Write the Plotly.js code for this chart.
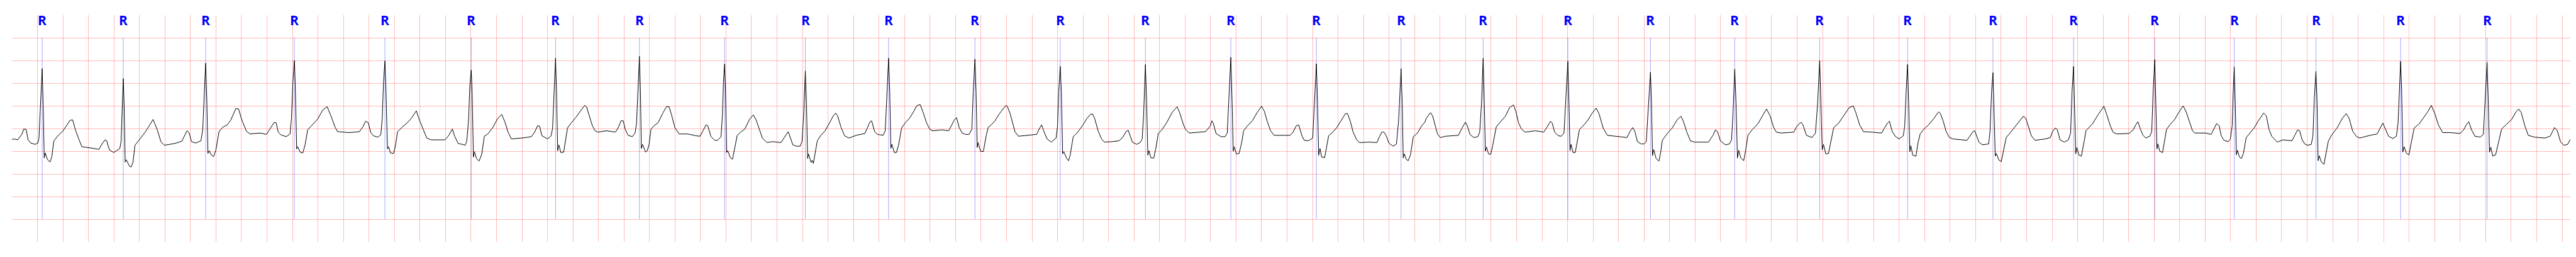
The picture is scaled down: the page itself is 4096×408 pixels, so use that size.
<!DOCTYPE html>
<html>
<head>
<meta charset="utf-8">
<script src="https://cdn.plot.ly/plotly-3.0.1.min.js"></script>
<style>html,body{margin:0;padding:0;background:#fff;}#chart{width:4096px;height:408px;}</style>
</head>
<body>
<div id="chart"></div>
<script>
// ECG trace: time (s) and amplitude (mV)
const ecgTimeS = [
0.000,0.018,0.045,0.059,0.079,0.093,0.111,0.127,0.148,0.182,
0.203,0.212,0.223,0.237,0.245,0.253,0.261,0.278,0.298,0.313,
0.328,0.360,0.401,0.428,0.456,0.476,0.500,0.524,0.548,0.620,
0.682,0.709,0.730,0.743,0.764,0.798,0.846,0.856,0.864,0.873,
0.880,0.888,0.897,0.921,0.935,0.949,0.965,0.997,1.045,1.072,
1.107,1.140,1.168,1.195,1.277,1.332,1.359,1.373,1.389,1.408,
1.442,1.482,1.496,1.507,1.519,1.528,1.537,1.547,1.565,1.581,
1.599,1.624,1.654,1.688,1.715,1.756,1.777,1.804,1.839,1.866,
1.948,1.996,2.023,2.055,
2.071,2.089,2.109,2.151,2.181,2.192,2.203,2.215,2.222,2.233,
2.241,2.260,2.281,2.299,2.319,2.356,2.398,2.438,2.472,2.500,
2.534,2.554,2.643,2.725,2.753,2.773,2.794,2.814,2.835,2.869,
2.893,2.904,2.914,2.925,2.932,2.945,2.953,2.969,2.993,3.009,
3.024,3.061,3.109,3.136,3.171,3.198,3.225,3.253,3.287,3.396,
3.424,3.454,3.472,3.499,3.533,3.554,3.567,3.581,3.591,3.602,
3.609,3.619,3.627,3.643,3.663,3.684,3.705,3.732,3.773,3.807,
3.841,3.868,3.889,3.917,3.999,4.074,4.101,4.122,4.138,4.156,
4.201,
4.229,4.240,4.251,4.263,4.271,4.280,4.289,4.305,4.327,4.342,
4.357,4.382,4.421,4.465,4.492,4.506,4.525,4.552,4.574,4.596,
4.662,4.733,4.755,4.777,4.794,4.810,4.832,4.865,4.887,4.898,
4.909,4.921,4.929,4.936,4.945,4.958,4.969,4.982,4.997,5.011,
5.035,5.068,5.106,5.134,5.153,5.172,5.199,5.232,5.298,5.364,
5.397,5.419,5.443,5.457,5.482,5.512,5.534,5.561,5.572,5.580,
5.589,5.596,5.605,5.614,5.633,5.651,5.662,5.688,5.715,5.748,
5.786,5.814,5.836,5.857,5.885,5.921,
5.965,6.031,6.053,6.075,6.088,6.102,6.124,6.152,6.182,6.197,
6.209,6.222,6.231,6.240,6.247,6.267,6.276,6.285,6.300,6.316,
6.344,6.377,6.409,6.442,6.459,6.475,6.503,6.530,6.563,6.623,
6.689,6.711,6.728,6.742,6.766,6.788,6.832,6.849,6.860,6.875,
6.884,6.893,6.901,6.920,6.936,6.953,6.977,7.007,7.040,7.073,
7.095,7.122,7.144,7.172,7.199,7.221,7.292,7.347,7.363,7.391,
7.408,7.429,7.452,7.479,7.506,7.528,7.539,7.552,7.561,7.570,
7.577,7.596,7.618,7.641,
7.657,7.679,7.707,7.745,7.795,7.806,7.828,7.844,7.866,7.893,
7.992,8.036,8.058,8.075,8.091,8.118,8.151,8.189,8.200,8.209,
8.221,8.230,8.240,8.249,8.272,8.286,8.299,8.323,8.353,8.397,
8.430,8.458,8.474,8.490,8.518,8.545,8.567,8.628,8.683,8.710,
8.737,8.754,8.771,8.787,8.820,8.848,8.864,8.875,8.889,8.899,
8.908,8.917,8.933,8.955,8.970,8.990,9.018,9.056,9.100,9.138,
9.160,9.188,9.204,9.232,9.361,
9.383,9.399,9.410,9.421,9.443,9.482,9.514,9.531,9.542,9.559,
9.569,9.578,9.585,9.602,9.624,9.644,9.659,9.690,9.728,9.767,
9.800,9.822,9.844,9.871,9.898,9.953,10.025,10.047,10.072,10.091,
10.118,10.135,10.168,10.201,10.211,10.230,10.239,10.248,10.258,10.271,
10.295,10.310,10.326,10.359,10.392,10.425,10.458,10.474,10.496,10.518,
10.546,10.568,10.644,10.705,10.721,10.743,10.760,10.776,10.798,10.831,
10.858,10.875,10.894,10.903,10.911,10.919,10.935,10.950,10.968,10.990,
11.023,11.056,11.081,
11.092,11.125,11.141,11.157,11.180,11.202,11.245,11.344,11.372,11.399,
11.416,11.434,11.465,11.496,11.511,11.525,11.538,11.547,11.555,11.564,
11.580,11.597,11.613,11.641,11.674,11.712,11.745,11.775,11.794,11.816,
11.838,11.866,11.948,12.013,12.041,12.066,12.079,12.099,12.128,12.150,
12.172,12.183,12.202,12.211,12.219,12.227,12.243,12.260,12.276,12.293,
12.325,12.358,12.391,12.424,12.446,12.479,12.512,12.616,12.666,12.688,
12.710,12.726,12.748,12.776,12.801,
12.817,12.831,12.850,12.858,12.866,12.875,12.894,12.916,12.930,12.943,
12.982,13.020,13.059,13.089,13.108,13.135,13.163,13.196,13.305,13.338,
13.360,13.376,13.398,13.437,13.470,13.486,13.497,13.511,13.521,13.532,
13.542,13.557,13.581,13.596,13.614,13.650,13.694,13.733,13.760,13.788,
13.815,13.837,13.876,13.974,13.996,14.029,14.046,14.073,14.117,14.144,
14.161,14.177,14.186,14.197,14.207,14.225,14.246,14.265,14.287,14.326,
14.369,14.408,14.441,14.463,14.490,14.521,
14.586,14.663,14.685,14.709,14.724,14.746,14.773,14.800,14.833,14.844,
14.855,14.866,14.875,14.884,14.892,14.907,14.932,14.948,14.965,14.992,
15.031,15.075,15.110,15.124,15.146,15.168,15.195,15.223,15.332,15.354,
15.382,15.393,15.409,15.426,15.453,15.502,15.513,15.525,15.536,15.543,
15.554,15.563,15.583,15.601,15.618,15.640,15.667,15.706,15.744,15.774,
15.793,15.815,15.837,15.865,15.947,15.986,16.002,16.024,16.040,16.062,
16.095,16.128,16.145,16.156,16.168,16.175,16.185,16.194,16.211,16.229,
16.241,
16.252,16.265,16.285,16.318,16.362,16.406,16.422,16.455,16.477,16.505,
16.603,16.636,16.656,16.673,16.693,16.713,16.735,16.766,16.781,16.792,
16.805,16.813,16.822,16.830,16.844,16.866,16.879,16.897,16.926,16.959,
16.992,17.028,17.052,17.079,17.101,17.118,17.206,17.247,17.266,17.290,
17.310,17.326,17.348,17.381,17.398,17.412,17.420,17.428,17.436,17.445,
17.453,17.469,17.485,17.500,17.522,17.551,17.584,17.617,17.659,17.680,
17.700,17.722,17.766,17.810,17.881,17.903,17.925,17.941,17.961,
17.981,18.002,18.032,18.045,18.056,18.069,18.077,18.086,18.095,18.111,
18.132,18.149,18.166,18.193,18.234,18.275,18.306,18.330,18.357,18.385,
18.412,18.494,18.549,18.569,18.593,18.617,18.638,18.672,18.700,18.713,
18.723,18.733,18.741,18.750,18.760,18.779,18.798,18.816,18.839,18.878,
18.919,18.946,18.974,19.001,19.029,19.063,19.124,19.200,19.227,19.248,
19.268,19.289,19.316,19.357,19.382,19.396,19.411,19.420,19.430,19.440,
19.456,19.478,19.501,19.525,19.563,19.604,19.638,19.659,19.679,19.707,
19.734,19.782,19.864,19.906,19.940,19.960,19.988,20.015,20.042,20.064
];
const ecgMv = [
-0.24,-0.23,-0.25,-0.19,-0.12,-0.01,-0.02,-0.25,-0.32,-0.35,
-0.32,-0.21,0.51,1.32,0.51,-0.65,-0.54,-0.68,-0.74,-0.62,
-0.28,-0.16,-0.05,0.06,0.18,0.19,-0.05,-0.23,-0.40,-0.43,
-0.46,-0.33,-0.25,-0.27,-0.47,-0.53,-0.44,-0.28,0.51,1.10,
0.51,-0.74,-0.69,-0.83,-0.85,-0.75,-0.37,-0.26,-0.08,0.04,
0.20,-0.03,-0.29,-0.37,-0.33,-0.28,-0.12,-0.05,-0.09,-0.29,
-0.32,-0.27,-0.03,0.66,1.44,0.66,-0.55,-0.49,-0.59,-0.62,
-0.48,-0.07,0.03,0.08,0.18,0.44,0.43,0.18,-0.06,-0.12,
-0.10,-0.13,-0.01,0.13,
0.13,-0.08,-0.14,-0.18,-0.12,0.22,1.02,1.50,0.95,-0.45,
-0.40,-0.52,-0.54,-0.36,-0.03,0.08,0.21,0.41,0.48,0.29,
0.03,-0.07,-0.09,-0.07,0.04,0.16,0.13,-0.09,-0.16,-0.19,
-0.14,0.22,1.02,1.49,0.95,-0.45,-0.40,-0.54,-0.55,-0.36,
-0.07,0.03,0.15,0.24,0.39,0.17,-0.03,-0.21,-0.25,-0.25,
-0.16,-0.01,-0.17,-0.33,-0.35,-0.37,-0.28,0.18,0.95,1.29,
0.80,-0.63,-0.51,-0.66,-0.72,-0.57,-0.17,-0.12,0.03,0.21,
0.31,0.13,-0.07,-0.23,-0.21,-0.18,-0.07,0.06,0.05,-0.16,
-0.23,
-0.16,0.01,0.81,1.55,0.81,-0.49,-0.36,-0.53,-0.52,-0.27,
0.01,0.11,0.24,0.41,0.51,0.48,0.31,0.06,-0.05,-0.08,
-0.05,-0.08,0.02,0.17,0.17,-0.02,-0.15,-0.18,-0.10,0.11,
0.81,1.59,0.81,-0.44,-0.35,-0.45,-0.52,-0.49,-0.35,-0.02,
0.06,0.13,0.35,0.48,0.48,0.31,0.02,-0.12,-0.12,-0.16,
-0.17,-0.05,0.08,0.06,-0.18,-0.26,-0.26,-0.18,0.31,1.02,
1.42,0.86,-0.53,-0.49,-0.64,-0.68,-0.53,-0.15,-0.08,-0.01,
0.21,0.30,0.19,0.01,-0.21,-0.31,
-0.29,-0.31,-0.21,-0.11,-0.07,-0.18,-0.36,-0.39,-0.39,-0.27,
0.31,1.27,0.56,-0.66,-0.56,-0.75,-0.70,-0.77,-0.55,-0.27,
-0.15,-0.05,0.11,0.28,0.34,0.28,0.02,-0.16,-0.21,-0.15,
-0.11,0.04,0.14,0.17,-0.07,-0.13,-0.15,-0.05,0.56,1.55,
0.81,-0.44,-0.35,-0.53,-0.53,-0.37,0.01,0.13,0.23,0.38,
0.50,0.53,0.37,0.13,-0.02,-0.05,-0.03,-0.05,0.04,0.19,
0.24,0.02,-0.10,-0.13,-0.13,-0.02,0.81,1.53,0.81,-0.42,
-0.31,-0.50,-0.51,-0.15,
0.03,0.08,0.16,0.33,0.51,0.49,0.33,0.16,-0.07,-0.17,
-0.14,-0.13,0.00,0.08,-0.05,-0.23,-0.30,-0.21,0.06,0.81,
1.37,0.81,-0.56,-0.51,-0.66,-0.71,-0.59,-0.18,-0.10,0.07,
0.22,0.31,0.32,0.23,-0.05,-0.23,-0.30,-0.29,-0.27,-0.20,
-0.07,-0.04,-0.17,-0.30,-0.35,-0.31,-0.23,0.31,1.41,0.56,
-0.59,-0.49,-0.65,-0.65,-0.45,-0.11,-0.03,0.13,0.36,0.48,
0.33,0.08,-0.02,-0.10,-0.07,
0.01,0.06,0.17,0.12,-0.11,-0.18,-0.18,-0.10,0.56,1.57,
0.56,-0.50,-0.40,-0.56,-0.55,-0.31,-0.05,0.06,0.17,0.36,
0.49,0.38,0.16,-0.05,-0.15,-0.15,-0.15,-0.08,0.06,0.08,
-0.17,-0.26,-0.27,-0.21,0.31,1.43,0.56,-0.59,-0.44,-0.63,
-0.64,-0.41,-0.16,-0.08,0.03,0.18,0.33,0.33,0.16,-0.08,
-0.25,-0.31,-0.30,-0.31,-0.20,-0.08,-0.08,-0.15,-0.32,-0.39,
-0.34,0.18,1.32,0.56,-0.65,-0.56,-0.68,-0.71,-0.58,-0.18,
-0.10,0.06,0.14,
0.23,0.35,0.28,0.12,-0.12,-0.20,-0.17,-0.15,0.01,0.14,
0.04,-0.13,-0.20,-0.18,-0.08,0.56,1.55,0.56,-0.50,-0.41,
-0.56,-0.57,-0.37,0.04,0.14,0.27,0.46,0.52,0.38,0.12,
-0.01,-0.08,-0.05,-0.08,0.04,0.16,0.12,-0.08,-0.16,-0.17,
-0.10,0.56,1.48,0.56,-0.49,-0.35,-0.53,-0.53,-0.27,-0.02,
0.07,0.18,0.33,0.45,0.33,0.01,-0.15,-0.18,-0.20,-0.07,
0.02,-0.05,-0.29,-0.34,-0.34,
-0.29,0.31,1.24,0.56,-0.60,-0.46,-0.66,-0.72,-0.53,-0.26,
-0.11,0.01,0.19,0.27,0.16,-0.08,-0.27,-0.30,-0.30,-0.16,
-0.03,-0.07,-0.27,-0.36,-0.34,-0.25,0.31,1.31,0.56,-0.65,
-0.48,-0.64,-0.71,-0.49,-0.15,-0.02,0.11,0.30,0.43,0.28,
0.03,-0.08,-0.10,-0.08,0.04,0.14,0.08,-0.15,-0.20,-0.10,
0.56,1.50,0.56,-0.47,-0.35,-0.56,-0.55,-0.27,0.02,0.12,
0.30,0.46,0.50,0.33,0.08,-0.07,
-0.08,-0.10,0.01,0.12,0.16,-0.07,-0.18,-0.23,-0.16,0.06,
0.81,1.41,0.56,-0.51,-0.38,-0.59,-0.61,-0.32,-0.12,-0.02,
0.08,0.23,0.37,0.33,0.16,-0.06,-0.20,-0.23,-0.26,-0.17,
-0.06,-0.05,-0.16,-0.30,-0.36,-0.34,-0.07,0.81,1.23,0.56,
-0.61,-0.55,-0.70,-0.73,-0.50,-0.20,-0.11,0.03,0.17,0.27,
0.23,0.03,-0.16,-0.26,-0.23,-0.20,-0.07,0.01,-0.02,-0.25,
-0.30,-0.25,-0.10,0.81,1.37,0.56,-0.56,-0.42,-0.59,-0.61,
-0.45,
-0.27,-0.05,0.01,0.11,0.31,0.49,0.36,0.07,-0.08,-0.12,
-0.11,-0.03,0.08,0.15,-0.02,-0.15,-0.21,-0.17,-0.07,0.81,
1.52,0.56,-0.45,-0.34,-0.50,-0.53,-0.32,-0.02,0.09,0.19,
0.35,0.50,0.36,0.13,-0.05,-0.10,-0.10,-0.13,-0.02,0.11,
0.06,-0.16,-0.26,-0.29,-0.23,0.06,0.81,1.36,0.56,-0.58,
-0.48,-0.63,-0.66,-0.55,-0.20,-0.10,0.01,0.17,0.34,0.28,
-0.01,-0.17,-0.30,-0.25,-0.27,-0.15,-0.03,-0.05,-0.25,
-0.34,-0.37,-0.35,-0.17,0.66,1.26,0.66,-0.71,-0.60,-0.74,
-0.79,-0.55,-0.28,-0.14,0.01,0.22,0.33,0.22,-0.06,-0.17,
-0.21,-0.15,-0.12,-0.01,0.12,-0.03,-0.17,-0.22,-0.17,0.12,
0.84,1.48,0.84,-0.52,-0.40,-0.55,-0.58,-0.32,0.01,0.10,
0.26,0.37,0.51,0.33,0.08,-0.09,-0.09,-0.11,-0.03,0.08,
0.15,-0.03,-0.17,-0.19,-0.13,0.66,1.46,0.66,-0.52,-0.41,
-0.61,-0.58,-0.28,-0.01,0.09,0.20,0.37,0.43,0.35,0.06,
-0.15,-0.19,-0.21,-0.17,0.02,-0.04,-0.30,-0.37,-0.35,-0.24
];
// Detected R peaks (s)
const rPeakTimes = [0.237,0.873,1.519,2.215,2.925,3.602,4.263,4.921,5.589,6.222,
6.875,7.552,8.221,8.889,9.559,10.230,10.894,11.538,12.202,12.850,
13.511,14.177,14.866,15.536,16.168,16.805,17.428,18.069,18.733,19.411];
const rLabel = "R";
const yGridVals = [-2.5,-2.0,-1.5,-1.0,-0.5,0.0,0.5,1.0,1.5,2.0];

const shapes = rPeakTimes.map(t => ({
  type: 'line', xref: 'x', yref: 'y', x0: t, x1: t, y0: -2, y1: 2,
  layer: 'below', line: {color: 'rgba(0,0,255,0.45)', width: 0.8}
}));
const annotations = rPeakTimes.map(t => ({
  x: t, y: 2.39, xref: 'x', yref: 'y', text: rLabel, showarrow: false,
  xanchor: 'center', yanchor: 'middle',
  font: {family: 'Open Sans, DejaVu Sans, sans-serif', size: 21, color: '#0000ff', weight: 'bold'}
}));

const trace = {
  x: ecgTimeS, y: ecgMv, type: 'scatter', mode: 'lines',
  line: {color: '#000000', width: 1}, hoverinfo: 'skip', showlegend: false
};

const layout = {
  width: 4096, height: 408,
  margin: {l: 19, r: 9, t: 24, b: 24, pad: 0},
  paper_bgcolor: '#ffffff', plot_bgcolor: '#ffffff',
  showlegend: false,
  xaxis: {range: [0, 20.064], tickmode: 'linear', tick0: 0, dtick: 0.2,
    showgrid: true, gridcolor: 'rgba(255,0,0,0.27)', gridwidth: 1,
    showticklabels: false, ticks: '', zeroline: false, showline: false, fixedrange: true},
  yaxis: {range: [-2.5, 2.5], tickmode: 'array', tickvals: yGridVals,
    showgrid: true, gridcolor: 'rgba(255,0,0,0.27)', gridwidth: 1,
    showticklabels: false, ticks: '', zeroline: false, showline: false, fixedrange: true},
  shapes: shapes,
  annotations: annotations
};

Plotly.newPlot('chart', [trace], layout, {staticPlot: true, displayModeBar: false});
</script>
</body>
</html>
